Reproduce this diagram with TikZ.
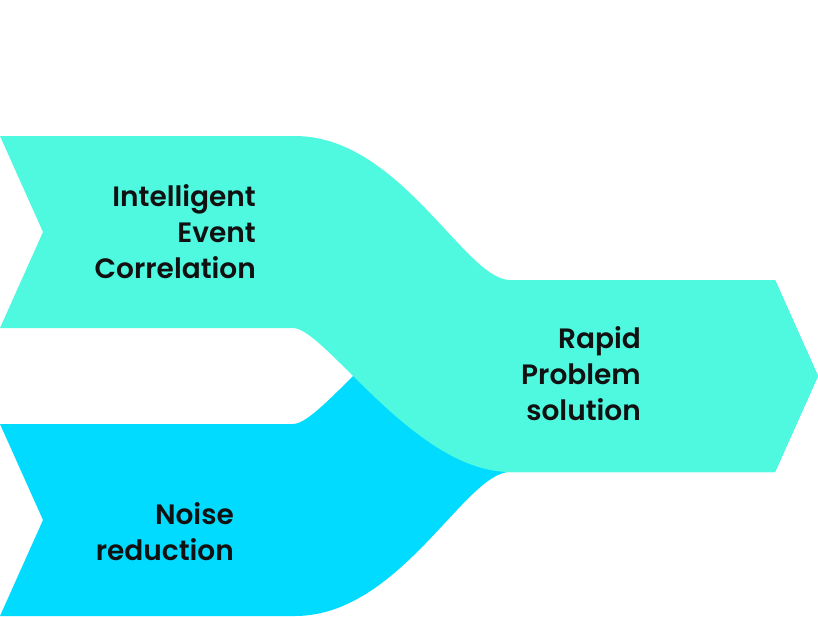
\documentclass[tikz,border=0pt]{standalone}
\usepackage{fontspec}
\setmainfont{Poppins}[BoldFont={* SemiBold}]
\definecolor{aqua}{HTML}{4EF9DF}
\definecolor{skyblue}{HTML}{00DBFF}
\definecolor{ink}{HTML}{111111}

\begin{document}
\begin{tikzpicture}[x=1pt, y=-1pt,
    bandtext/.style={anchor=east, align=right, inner sep=0pt, text=ink,
        font=\fontsize{28}{36}\selectfont\bfseries}]
    \useasboundingbox (0,0) rectangle (818,616);
    \def\n{43}
    \def\tip{818}

    % lower band, mirror of the upper one about y=376
    \fill[skyblue] (0,424) -- (293,424) .. controls (325,424) and (415,280) .. (510,280)
        -- (775,280) -- (\tip,376) -- (775,472) -- (510,472)
        .. controls (465,472) and (400,616) .. (295,616) -- (0,616) -- (\n,520) -- cycle;

    % upper band
    \fill[aqua] (0,136) -- (295,136) .. controls (400,136) and (465,280) .. (510,280)
        -- (775,280) -- (\tip,376) -- (775,472) -- (510,472)
        .. controls (415,472) and (325,328) .. (293,328) -- (0,328) -- (\n,232) -- cycle;

    \node[bandtext] (correlation) at (256,232) {Intelligent\\Event\\Correlation};
    \node[bandtext] (solution) at (641,374) {Rapid\\Problem\\solution};
    \node[bandtext] (noise) at (234,532) {Noise\\reduction};
\end{tikzpicture}
\end{document}
